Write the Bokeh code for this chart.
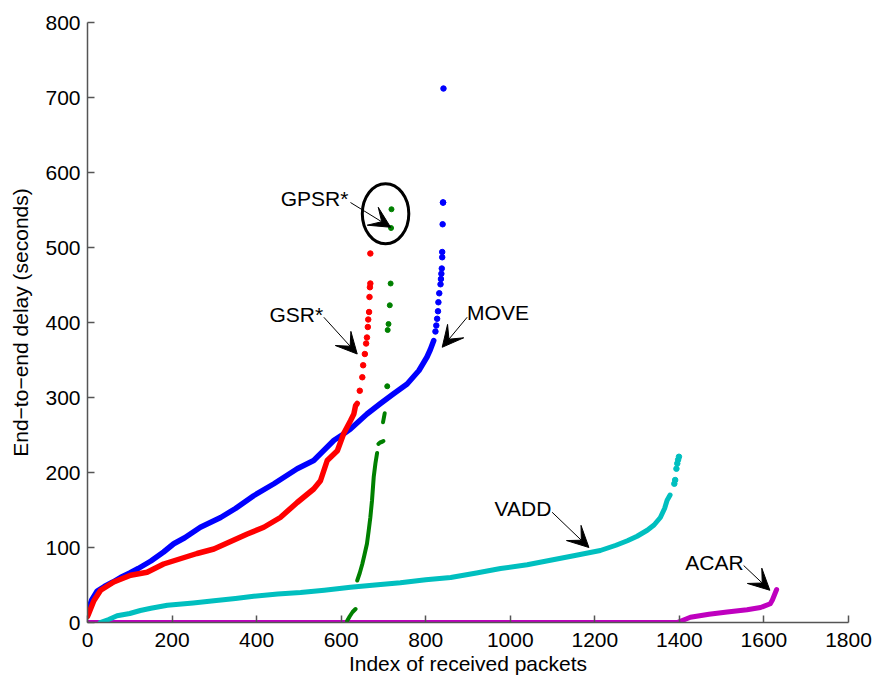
from bokeh.plotting import figure
from bokeh.models import Arrow, VeeHead, Label, FixedTicker, Range1d
from bokeh.embed import file_html
from bokeh.resources import INLINE

# ---- sorted end-to-end delay per received packet, by protocol ----
move_idx = [0, 5, 10, 23, 40, 60, 78, 100, 120, 150, 180, 204, 230, 267, 315, 350,
            393, 441, 496, 535, 583, 602, 622, 661, 693, 724, 756, 784, 803, 811, 819]
move_delay = [10, 22, 30, 42, 48, 54, 60, 66, 72, 82, 94, 105, 113, 127, 140, 152,
              169, 185, 205, 216, 243, 250, 258, 278, 292, 305, 318, 336, 354, 364, 376]
move_tail_idx = [823, 825, 827, 829, 830, 832, 835, 836, 837, 838, 839, 839, 840, 841, 841, 842]
move_tail_delay = [388, 396, 405, 415, 427, 439, 451, 458, 465, 472, 487, 494, 531, 560, 560, 712]

gsr_idx = [0, 3, 15, 31, 62, 102, 141, 180, 259, 299, 378, 417, 456, 496, 535, 551,
           567, 591, 606, 622, 630, 634, 638]
gsr_delay = [8, 12, 29, 43, 54, 63, 67, 78, 92, 98, 118, 127, 140, 160, 178, 189,
             216, 229, 252, 269, 278, 289, 292]
gsr_tail_idx = [644, 650, 652, 656, 659, 661, 663, 664, 666, 667, 668, 669, 669]
gsr_tail_delay = [309, 327, 343, 358, 372, 380, 394, 404, 414, 434, 447, 452, 492]

gpsr_seg_idx = [[614, 620, 627, 634],
                [638, 644, 650, 655, 661, 665, 669, 673, 677, 681, 685],
                [688, 692, 697, 700],
                [699, 701, 703]]
gpsr_seg_delay = [[2, 8, 14, 18],
                  [56, 66, 78, 90, 105, 122, 140, 163, 194, 212, 226],
                  [238, 240, 241, 242],
                  [267, 273, 279]]
gpsr_tail_idx = [709, 710, 712, 715, 717, 718, 719]
gpsr_tail_delay = [315, 390, 398, 423, 452, 526, 551]

vadd_idx = [30, 50, 70, 100, 125, 150, 189, 250, 299, 350, 393, 450, 504, 560, 622,
            680, 740, 800, 859, 920, 977, 1040, 1095, 1150, 1213, 1250, 1277, 1300,
            1324, 1340, 1355, 1365, 1371, 1378]
vadd_delay = [0, 4, 9, 12, 16, 19, 23, 26, 29, 32, 35, 38, 40, 43, 47,
              50, 53, 57, 60, 66, 72, 77, 83, 89, 96, 103, 109, 115,
              123, 130, 140, 152, 163, 170]
vadd_tail_idx = [1388, 1390, 1393, 1395, 1397, 1399]
vadd_tail_delay = [185, 190, 205, 212, 217, 221]

acar_idx = [0, 400, 800, 1200, 1395, 1426, 1470, 1513, 1560, 1592, 1615, 1620, 1625, 1630]
acar_delay = [0, 0, 0, 0, 0, 7, 11, 14, 17, 20, 25, 30, 37, 44]

x_ticks = [0, 200, 400, 600, 800, 1000, 1200, 1400, 1600, 1800]
y_ticks = [0, 100, 200, 300, 400, 500, 600, 700, 800]

# annotation texts: (label, text x, text baseline y, arrow start, arrow end)
notes = [
    ("GPSR*", 537, 565, (622, 560), (717, 527)),
    ("GSR*", 494, 411, (559, 407), (638, 358)),
    ("MOVE", 971, 414, (898, 407), (839, 367)),
    ("VADD", 1030, 152, (1099, 147), (1186, 100)),
    ("ACAR", 1483, 80, (1552, 76), (1614, 43)),
]
ring_x, ring_y, ring_w, ring_h = 705, 545, 110, 80

BLUE, GREEN, RED, CYAN, MAGENTA = "#0000ff", "#008000", "#ff0000", "#00bfbf", "#bf00bf"
FONT = "Liberation Sans"
AXIS_GREY = "#555555"

p = figure(width=875, height=677, output_backend="svg", toolbar_location=None,
           x_range=Range1d(0, 1800), y_range=Range1d(0, 800),
           min_border_left=87, min_border_right=27, min_border_top=22, min_border_bottom=55,
           x_axis_label="Index of received packets",
           y_axis_label="End\u2212to\u2212end delay (seconds)")
p.outline_line_color = None
p.grid.visible = False
p.background_fill_color = "white"

p.xaxis.ticker = FixedTicker(ticks=x_ticks)
p.yaxis.ticker = FixedTicker(ticks=y_ticks)
for ax in (p.xaxis, p.yaxis):
    ax.axis_line_color = AXIS_GREY
    ax.axis_line_width = 1.5
    ax.major_tick_line_color = AXIS_GREY
    ax.major_tick_line_width = 1.5
    ax.major_tick_in = 7
    ax.major_tick_out = 0
    ax.minor_tick_line_color = None
    ax.major_label_text_font = FONT
    ax.major_label_text_font_size = "21px"
    ax.major_label_text_color = "black"
    ax.axis_label_text_font = FONT
    ax.axis_label_text_font_size = "21px"
    ax.axis_label_text_font_style = "normal"
    ax.axis_label_text_color = "black"
p.xaxis.major_label_standoff = 10
p.xaxis.axis_label_standoff = 2
p.yaxis.major_label_standoff = 7
p.yaxis.axis_label_standoff = 10

# dense parts as thick dotted strokes, sparse tails as single dots
p.line(acar_idx, acar_delay, line_color=MAGENTA, line_width=5, line_cap="round", line_join="round")
p.line(vadd_idx, vadd_delay, line_color=CYAN, line_width=5, line_cap="round", line_join="round")
p.scatter(vadd_tail_idx, vadd_tail_delay, marker="circle", size=5.5, color=CYAN)
p.line(move_idx, move_delay, line_color=BLUE, line_width=5.5, line_cap="round", line_join="round")
p.scatter(move_tail_idx, move_tail_delay, marker="circle", size=5.5, color=BLUE)
p.line(gsr_idx, gsr_delay, line_color=RED, line_width=5.5, line_cap="round", line_join="round")
p.scatter(gsr_tail_idx, gsr_tail_delay, marker="circle", size=5.5, color=RED)
p.multi_line(gpsr_seg_idx, gpsr_seg_delay, line_color=GREEN, line_width=4,
             line_cap="round", line_join="round")
p.scatter(gpsr_tail_idx, gpsr_tail_delay, marker="circle", size=5, color=GREEN)

p.ellipse(x=[ring_x], y=[ring_y], width=[ring_w], height=[ring_h],
          fill_color=None, line_color="black", line_width=3)

for text, tx, ty, (x0, y0), (x1, y1) in notes:
    p.add_layout(Label(x=tx, y=ty, text=text, text_align="center", text_baseline="alphabetic",
                       text_font=FONT, text_font_size="21px", text_color="black"))
    p.add_layout(Arrow(x_start=x0, y_start=y0, x_end=x1, y_end=y1,
                       line_color="black", line_width=1,
                       end=VeeHead(size=21, fill_color="black", line_color="black")))

open("out.html", "w").write(file_html(p, INLINE))
